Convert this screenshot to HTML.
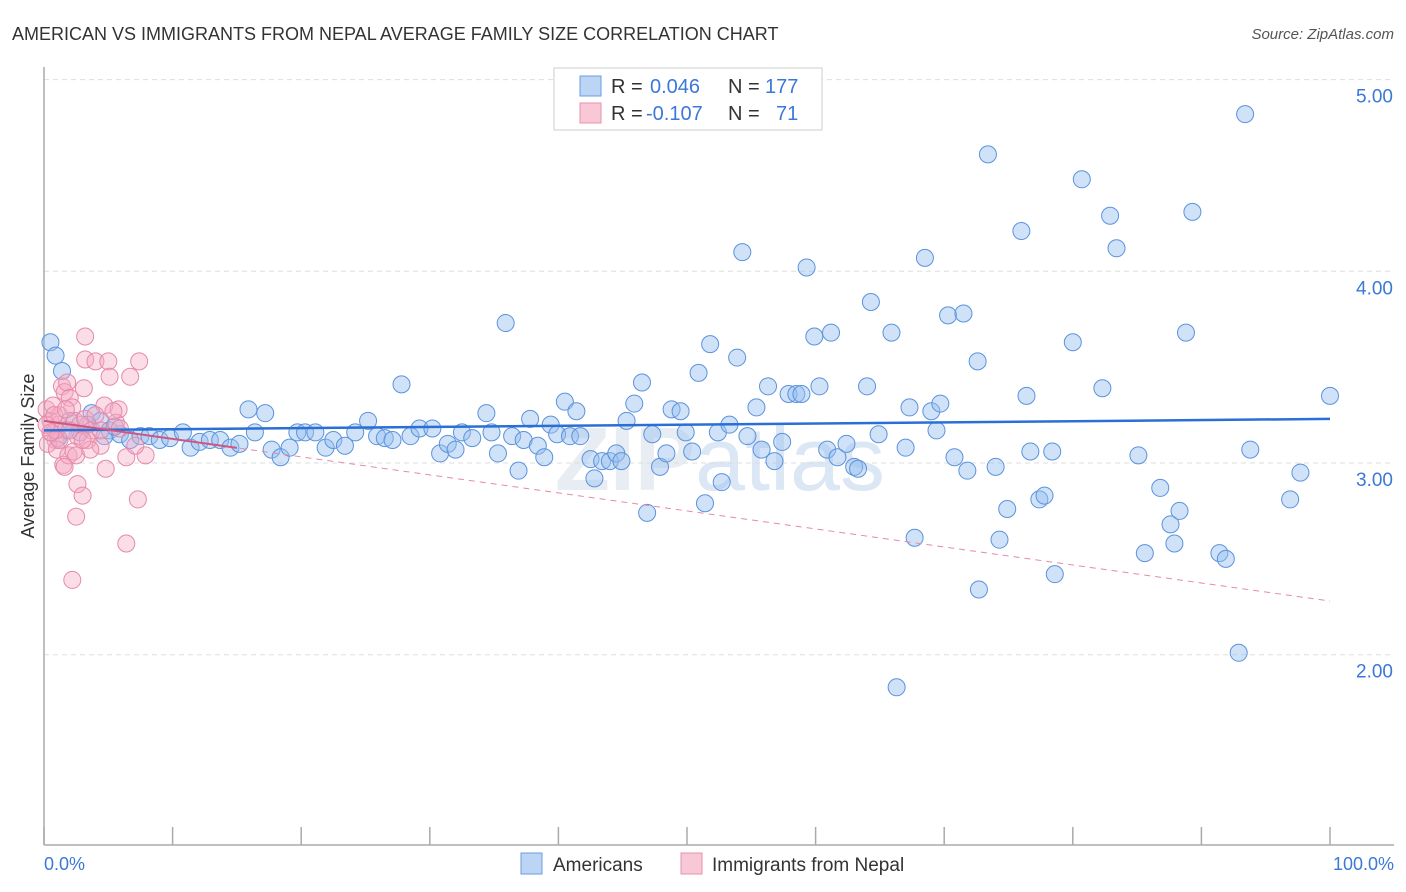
<!DOCTYPE html>
<html><head><meta charset="utf-8"><style>
body{margin:0;background:#fff;font-family:"Liberation Sans",sans-serif;}
#wrap{position:relative;width:1406px;height:892px;overflow:hidden;}
</style></head><body>
<div id="wrap">
<svg id="svg" width="1406" height="892" xmlns="http://www.w3.org/2000/svg">
<text x="12" y="40" font-size="18" fill="#333">AMERICAN VS IMMIGRANTS FROM NEPAL AVERAGE FAMILY SIZE CORRELATION CHART</text>
<text x="1394" y="39" font-size="15" fill="#555" font-style="italic" text-anchor="end">Source: ZipAtlas.com</text>
<text x="720" y="490" font-size="90" font-weight="bold" fill="#e8edf3" text-anchor="middle">ZIP<tspan font-weight="normal" fill="#dce7f5">atlas</tspan></text>
<g id="grid"></g>
<line x1="44" y1="67" x2="44" y2="845" stroke="#aaa" stroke-width="1.5"/>
<line x1="44" y1="845" x2="1394" y2="845" stroke="#aaa" stroke-width="1.5"/>
<text transform="translate(34,456) rotate(-90)" font-size="18" fill="#333" text-anchor="middle">Average Family Size</text>
<text x="44" y="870" font-size="18" fill="#3b78d8">0.0%</text>
<text x="1394" y="870" font-size="18" fill="#3b78d8" text-anchor="end">100.0%</text>
<g id="pts"></g>
<g id="trend"></g>
<g>
<rect x="554" y="68" width="268" height="62" fill="#fff" stroke="#ccc"/>
<rect x="580" y="76" width="21" height="20" fill="#bcd5f5" stroke="#6a9be0"/>
<rect x="580" y="103" width="21" height="20" fill="#f8c8d6" stroke="#e891ac"/>
<text x="611" y="93" font-size="20" fill="#333">R = </text><text x="650" y="93" font-size="20" fill="#3b78d8">0.046</text>
<text x="728" y="93" font-size="20" fill="#333">N = </text><text x="765" y="93" font-size="20" fill="#3b78d8">177</text>
<text x="611" y="120" font-size="20" fill="#333">R = </text><text x="646" y="120" font-size="20" fill="#3b78d8">-0.107</text>
<text x="728" y="120" font-size="20" fill="#333">N = </text><text x="776" y="120" font-size="20" fill="#3b78d8">71</text>
</g>
<g>
<rect x="521" y="853" width="21" height="21" fill="#bcd5f5" stroke="#6a9be0"/>
<text x="553" y="871" font-size="19" fill="#333">Americans</text></g>
<g>
<rect x="681" y="853" width="21" height="21" fill="#f8c8d6" stroke="#e891ac"/>
<text x="712" y="871" font-size="19" fill="#333">Immigrants from Nepal</text></g>
</svg>
</div>
<script>
const yTicks=[2,3,4,5];
const yTickLabels=["2.00","3.00","4.00","5.00"];
const xTicks=[0,10,20,30,40,50,60,70,80,90,100];
const blueX=[0.5,0.9,1.4,3.7,4.4,5.1,5.9,6.7,7.5,8.2,9.0,9.8,10.8,11.4,12.1,12.9,13.7,14.5,15.2,15.9,16.4,17.2,17.7,18.4,19.1,19.7,20.3,21.1,21.9,22.5,23.4,24.2,25.2,25.9,26.5,27.1,27.8,28.5,29.2,30.2,30.8,31.4,32.0,32.5,33.3,34.4,34.8,35.3,35.9,36.4,36.9,37.3,37.8,38.4,38.9,39.4,39.9,40.5,40.9,41.4,41.7,42.5,42.8,43.4,44.0,44.5,44.9,45.3,45.9,46.5,46.9,47.3,47.9,48.4,48.8,49.5,49.9,50.4,50.9,51.4,51.8,52.4,52.7,53.3,53.9,54.3,54.7,55.4,55.8,56.3,56.8,57.4,57.9,58.5,58.9,59.3,59.9,60.3,60.9,61.2,61.7,62.4,63.0,63.3,64.0,64.3,64.9,65.9,66.3,67.0,67.3,67.7,68.5,69.0,69.4,69.7,70.3,71.5,70.8,71.8,72.6,72.7,73.4,74.0,74.3,74.9,76.0,76.4,76.7,77.4,77.8,78.4,78.6,80.0,80.7,82.3,82.9,83.4,85.1,85.6,86.8,87.6,87.9,88.3,88.8,89.3,91.4,91.9,92.9,93.4,93.8,96.9,97.7,100,2.0,2.8,3.4,4.7,5.5,1.7,1.1];
const blueY=[3.63,3.56,3.48,3.26,3.22,3.17,3.15,3.12,3.14,3.14,3.12,3.13,3.16,3.08,3.11,3.12,3.12,3.08,3.10,3.28,3.16,3.26,3.07,3.03,3.08,3.16,3.16,3.16,3.08,3.12,3.09,3.16,3.22,3.14,3.13,3.12,3.41,3.14,3.18,3.18,3.05,3.10,3.07,3.16,3.13,3.26,3.16,3.05,3.73,3.14,2.96,3.12,3.23,3.09,3.03,3.20,3.15,3.32,3.14,3.27,3.14,3.02,2.92,3.01,3.01,3.05,3.01,3.22,3.31,3.42,2.74,3.15,2.98,3.05,3.28,3.27,3.16,3.06,3.47,2.79,3.62,3.16,2.90,3.20,3.55,4.10,3.14,3.29,3.07,3.40,3.01,3.11,3.36,3.36,3.36,4.02,3.66,3.40,3.07,3.68,3.03,3.10,2.98,2.97,3.40,3.84,3.15,3.68,1.83,3.08,3.29,2.61,4.07,3.27,3.17,3.31,3.77,3.78,3.03,2.96,3.53,2.34,4.61,2.98,2.60,2.76,4.21,3.35,3.06,2.81,2.83,3.06,2.42,3.63,4.48,3.39,4.29,4.12,3.04,2.53,2.87,2.68,2.58,2.75,3.68,4.31,2.53,2.50,2.01,4.82,3.07,2.81,2.95,3.35,3.22,3.16,3.20,3.14,3.19,3.17,3.13];
const pinkX=[0.2,0.5,0.6,0.9,1.1,1.2,1.4,1.6,1.8,2.0,2.2,2.4,2.6,2.8,3.2,3.4,3.7,0.3,0.7,1.0,1.5,1.9,2.3,2.5,3.1,3.2,4.0,5.0,5.1,4.7,5.8,5.6,5.9,6.7,7.4,6.4,7.9,4.4,4.8,2.6,3.0,7.3,2.5,6.4,2.2,1.6,1.2,0.9,0.5,0.2,2.0,3.6,5.4,7.1,4.4,3.0,4.0,0.8,1.7,3.2];
const pinkY=[3.28,3.22,3.16,3.12,3.20,3.25,3.40,3.37,3.42,3.34,3.29,3.22,3.14,3.20,3.23,3.12,3.17,3.10,3.30,3.07,2.99,3.04,3.06,3.04,3.39,3.54,3.53,3.53,3.45,3.30,3.28,3.21,3.18,3.45,3.53,3.03,3.04,3.09,2.97,2.89,2.83,2.81,2.72,2.58,2.39,2.98,3.12,3.17,3.16,3.20,3.17,3.07,3.27,3.09,3.17,3.12,3.25,3.25,3.28,3.66];
const blueTrend=[3.17,3.23];
const pinkTrend=[3.22,2.28];
const NS="http://www.w3.org/2000/svg";
function xs(p){return 44+p*12.86;}
function ys(v){return 463-(v-3)*191.7;}
function mk(t,a,parent){const e=document.createElementNS(NS,t);for(const k in a)e.setAttribute(k,a[k]);parent.appendChild(e);return e;}
const grid=document.getElementById('grid');
yTicks.forEach((t,i)=>{
 const l=mk('line',{x1:44,x2:1394,y1:ys(t),y2:ys(t),stroke:'#ddd','stroke-dasharray':'5,4'},grid);
 
 
 const tx=mk('text',{x:1393,y:ys(t)+23,'font-size':19,fill:'#3b78d8','text-anchor':'end'},grid);
 tx.textContent=yTickLabels[i];
 
 
});
xTicks.forEach(t=>{
 const l=mk('line',{x1:xs(t),x2:xs(t),y1:827,y2:845,stroke:'#aaa','stroke-width':1.5},grid);
 
 
});
const pts=document.getElementById('pts');
blueX.forEach((x,i)=>{
 const c=mk('circle',{cx:xs(x),cy:ys(blueY[i]),r:8.5,fill:'rgba(150,190,240,0.45)',stroke:'#5b93dc','stroke-width':1},pts);
 
 
});
pinkX.forEach((x,i)=>{
 const c=mk('circle',{cx:xs(x),cy:ys(pinkY[i]),r:8.5,fill:'rgba(245,170,195,0.4)',stroke:'#e58aa8','stroke-width':1},pts);
 
 
});
const tr=document.getElementById('trend');
const bl=mk('line',{x1:xs(0),y1:ys(blueTrend[0]),x2:xs(100),y2:ys(blueTrend[1]),stroke:'#2a6fd6','stroke-width':2.5},tr);


const pl=mk('line',{x1:xs(0),y1:ys(pinkTrend[0]),x2:xs(100),y2:ys(pinkTrend[1]),stroke:'#e58aa8','stroke-width':1,'stroke-dasharray':'6,5'},tr);


const ps=mk('line',{x1:xs(0),y1:ys(pinkTrend[0]),x2:xs(15),y2:ys(pinkTrend[0]+(pinkTrend[1]-pinkTrend[0])*0.15),stroke:'#d0567f','stroke-width':2},tr);


</script>
</body></html>
